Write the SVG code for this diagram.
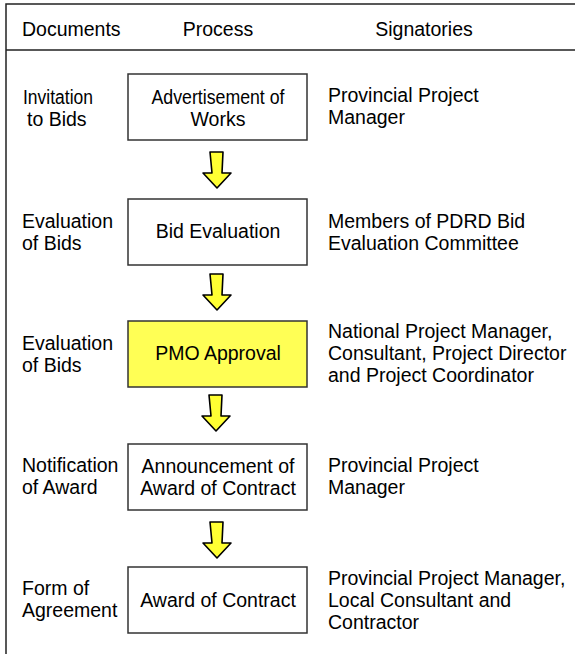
<svg xmlns="http://www.w3.org/2000/svg" width="575" height="654" viewBox="0 0 575 654">
  <defs>
    <style>
      text { font-family: "Liberation Sans", Arial, sans-serif; font-size: 19.5px; fill: #000; }
      .mid { text-anchor: middle; }
      .frame { stroke: #222; stroke-width: 1.5; fill: none; }
      .box { fill: #fff; stroke: #333; stroke-width: 1.5; }
      .hl { fill: #ffff55; }
      .flow { fill: #ffff33; stroke: #000; stroke-width: 1.6; stroke-linejoin: round; }
    </style>
    <path id="down" d="M -7,0 L 6,0 L 5,21 L 14,21 L 0,36 L -14,21 L -5,21 Z"/>
  </defs>

  <rect width="575" height="654" fill="#fff"/>

  <!-- table frame and header -->
  <g id="header">
    <path class="frame" d="M 6,654 V 4 H 575 M 6,50 H 575"/>
    <text x="22" y="36">Documents</text>
    <text class="mid" x="218" y="36">Process</text>
    <text class="mid" x="424" y="36">Signatories</text>
  </g>

  <!-- flow arrows between steps -->
  <g id="connectors">
    <use href="#down" class="flow" x="217" y="152"/>
    <use href="#down" class="flow" x="217" y="274"/>
    <use href="#down" class="flow" x="216" y="395"/>
    <use href="#down" class="flow" x="217" y="522"/>
  </g>

  <g id="step1">
    <text x="23" y="104" textLength="70" lengthAdjust="spacingAndGlyphs">Invitation</text>
    <text x="27" y="126">to Bids</text>
    <rect class="box" x="128" y="74" width="179" height="66"/>
    <text class="mid" x="218" y="104" textLength="133" lengthAdjust="spacingAndGlyphs">Advertisement of</text>
    <text class="mid" x="218" y="126">Works</text>
    <text x="328" y="102">Provincial Project</text>
    <text x="328" y="124">Manager</text>
  </g>

  <g id="step2">
    <text x="22" y="228">Evaluation</text>
    <text x="22" y="250">of Bids</text>
    <rect class="box" x="128" y="199" width="179" height="66"/>
    <text class="mid" x="218" y="238">Bid Evaluation</text>
    <text x="328" y="228">Members of PDRD Bid</text>
    <text x="328" y="250">Evaluation Committee</text>
  </g>

  <g id="step3">
    <text x="22" y="350">Evaluation</text>
    <text x="22" y="372">of Bids</text>
    <rect class="box hl" x="128" y="321" width="179" height="66"/>
    <text class="mid" x="218" y="360">PMO Approval</text>
    <text x="328" y="338">National Project Manager,</text>
    <text x="328" y="360">Consultant, Project Director</text>
    <text x="328" y="382">and Project Coordinator</text>
  </g>

  <g id="step4">
    <text x="22" y="472">Notification</text>
    <text x="22" y="494">of Award</text>
    <rect class="box" x="128" y="444" width="179" height="66"/>
    <text class="mid" x="218" y="473">Announcement of</text>
    <text class="mid" x="218" y="495">Award of Contract</text>
    <text x="328" y="472">Provincial Project</text>
    <text x="328" y="494">Manager</text>
  </g>

  <g id="step5">
    <text x="22" y="595">Form of</text>
    <text x="22" y="617">Agreement</text>
    <rect class="box" x="128" y="567" width="179" height="66"/>
    <text class="mid" x="218" y="607">Award of Contract</text>
    <text x="328" y="585">Provincial Project Manager,</text>
    <text x="328" y="607">Local Consultant and</text>
    <text x="328" y="629">Contractor</text>
  </g>
</svg>
